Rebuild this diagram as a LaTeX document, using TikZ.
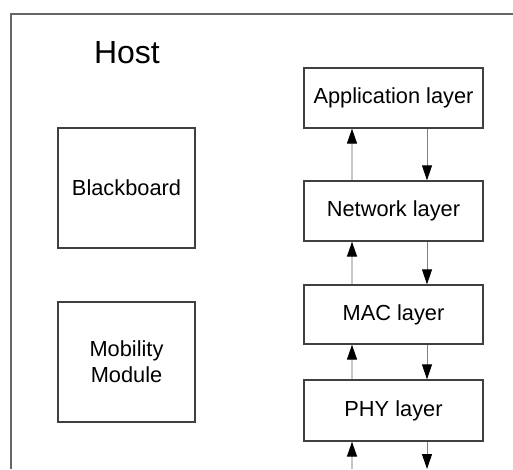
\documentclass[tikz,border=0pt]{standalone}
\usepackage{fontspec}
\setmainfont{Liberation Sans}
\usetikzlibrary{arrows.meta}
\begin{document}
\begin{tikzpicture}[x=1pt,y=-1pt,
  box/.style={draw=black!75,line width=1.3pt,inner sep=0pt,align=center,
    font=\fontsize{21.8}{26}\selectfont},
  uparrow/.style={draw=black!22,line width=1.3pt,
    -{Triangle[length=15pt,width=10pt,color=black]}},
  downarrow/.style={draw=black!50,line width=1pt,
    -{Triangle[length=15pt,width=10pt,color=black]}}]
\useasboundingbox (0,0) rectangle (513,469);
\fill[white] (0,0) rectangle (513,469);

% host frame, running off the right and bottom edges
\draw[black!60,line width=2pt] (11,469) -- (11,14) -- (513,14);
\node[anchor=base,font=\fontsize{32}{38}\selectfont] (host) at (127,63) {Host};

% protocol stack
\node[box,minimum width=179pt,minimum height=60pt] (app) at (393.5,98) {Application layer};
\node[box,minimum width=179pt,minimum height=60pt] (net) at (393.5,211) {Network layer};
\node[box,minimum width=179pt,minimum height=59pt] (mac) at (393.5,314.5) {MAC layer};
\node[box,minimum width=179pt,minimum height=61pt] (phy) at (393.5,410.5) {PHY layer};

% side modules
\node[box,minimum width=137pt,minimum height=120pt] (bb) at (126.5,188) {Blackboard};
\node[box,minimum width=137pt,minimum height=120pt] (mob) at (126.5,362) {Mobility\\Module};

% columns of the up and down connectors
\coordinate (upx) at (352,0);
\coordinate (dnx) at (427,0);
\coordinate (belowup) at (352,469);
\coordinate (belowdn) at (427,469);

\draw[uparrow] (net.north -| upx) -- (app.south -| upx);
\draw[downarrow] (app.south -| dnx) -- (net.north -| dnx);
\draw[uparrow] (mac.north -| upx) -- (net.south -| upx);
\draw[downarrow] (net.south -| dnx) -- (mac.north -| dnx);
\draw[uparrow] (phy.north -| upx) -- (mac.south -| upx);
\draw[downarrow] (mac.south -| dnx) -- (phy.north -| dnx);
\draw[uparrow] (belowup) -- (phy.south -| upx);
\draw[downarrow] (phy.south -| dnx) -- (belowdn);
\end{tikzpicture}
\end{document}
